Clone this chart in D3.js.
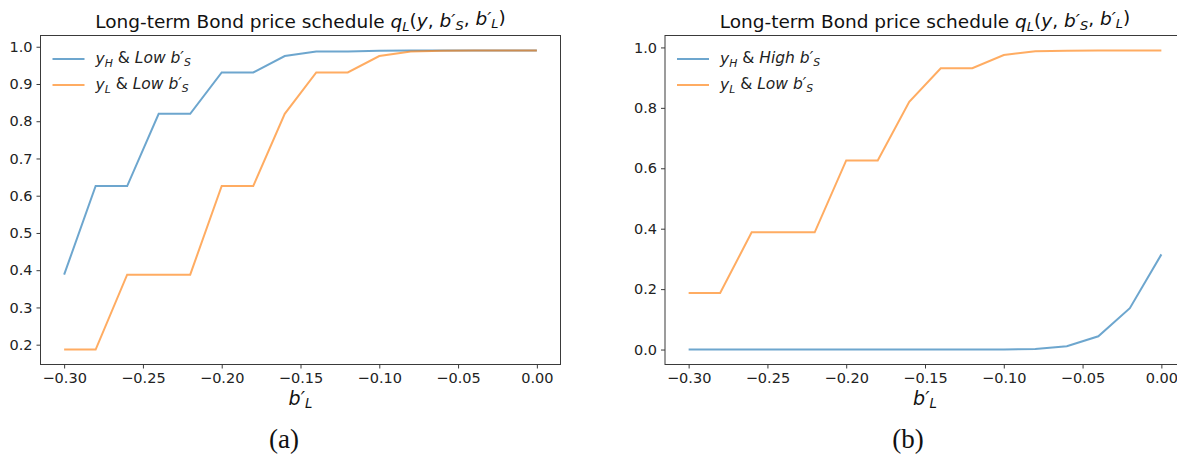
<!DOCTYPE html>
<html><head><meta charset="utf-8">
<script src="https://cdn.jsdelivr.net/npm/d3@7"></script>
<style>body{margin:0;background:#fff}svg{display:block}</style>
</head><body><svg id="c" width="1177" height="462"></svg>
<script>
const xValues = [-0.30,-0.28,-0.26,-0.24,-0.22,-0.20,-0.18,-0.16,-0.14,-0.12,-0.10,-0.08,-0.06,-0.04,-0.02,0.00];
const aHighY_LowB = [0.388,0.626,0.626,0.820,0.820,0.931,0.931,0.975,0.987,0.987,0.989,0.990,0.990,0.990,0.990,0.990];
const aLowY_LowB  = [0.187,0.187,0.388,0.388,0.388,0.626,0.626,0.820,0.931,0.931,0.975,0.987,0.989,0.990,0.990,0.990];
const bHighY_HighB = [0,0,0,0,0,0,0,0,0,0,0.0005,0.002,0.011,0.044,0.137,0.315];
const bLowY_LowB  = [0.187,0.187,0.388,0.388,0.388,0.626,0.626,0.820,0.931,0.931,0.975,0.987,0.989,0.990,0.990,0.990];
const xTicks = [-0.30,-0.25,-0.20,-0.15,-0.10,-0.05,0.00];
const aYTicks = [0.2,0.3,0.4,0.5,0.6,0.7,0.8,0.9,1.0];
const bYTicks = [0.0,0.2,0.4,0.6,0.8,1.0];
const blue = "#1f77b4", orange = "#ff7f0e";

const svg = d3.select("#c");
const FONT = "DejaVu Sans, sans-serif";
const W = 520, TOP = 35.5, BOT = 364.5;

function mathLabel(sel, parts){
  parts.forEach(p=>{
    const t = sel.append("tspan").text(p[0]);
    if(p[1]) t.attr("font-style","italic");
    if(p[2]){ t.attr("font-size","0.7em").attr("dy","0.25em"); }
    if(p[3]){ t.attr("dy","-0.25em"); }
  });
}

function panel(o){
  const g = svg.append("g");
  const x = d3.scaleLinear().domain([-0.315,0.015]).range([o.left,o.left+W]);
  const y = d3.scaleLinear().domain(o.yDomain).range([BOT,TOP]);
  g.append("rect").attr("x",o.left).attr("y",TOP).attr("width",W).attr("height",BOT-TOP)
    .attr("fill","none").attr("stroke","#3a3a3a").attr("stroke-width",1);
  const xa = g.append("g").attr("transform",`translate(0,${BOT})`)
    .call(d3.axisBottom(x).tickValues(xTicks).tickSize(4).tickPadding(4)
      .tickFormat(d=>d3.format(".2f")(d).replace("-","−")));
  const ya = g.append("g").attr("transform",`translate(${o.left},0)`)
    .call(d3.axisLeft(y).tickValues(o.yTicks).tickSize(4).tickPadding(4).tickFormat(d3.format(".1f")));
  [xa,ya].forEach(a=>{
    a.select(".domain").remove();
    a.selectAll("line").attr("stroke","#3a3a3a");
    a.selectAll("text").attr("font-family",FONT).attr("font-size",14.5).attr("fill","#222");
  });
  const line = d3.line().x((d,i)=>x(xValues[i])).y(d=>y(d));
  o.series.forEach(s=>{
    g.append("path").datum(s.values).attr("d",line).attr("fill","none")
      .attr("stroke",s.color).attr("stroke-opacity",0.65).attr("stroke-width",2);
  });
  const cx = o.left + W/2;
  const t = g.append("text").attr("x",cx).attr("y",28).attr("text-anchor","middle")
    .attr("font-family",FONT).attr("font-size",18.5).attr("fill","#111");
  mathLabel(t,[["Long-term Bond price schedule ",false],["q",true],["L",true,true],["(",false,false,true],["y",true],[", ",false],["b′",true],["S",true,true],[", ",false,false,true],["b′",true],["L",true,true],[")",false,false,true]]);
  o.series.forEach((s,i)=>{
    const ly = 59 + i*26;
    g.append("line").attr("x1",o.left+12).attr("x2",o.left+44).attr("y1",ly).attr("y2",ly)
      .attr("stroke",s.color).attr("stroke-opacity",0.65).attr("stroke-width",2);
    const lt = g.append("text").attr("x",o.left+55).attr("y",ly+5)
      .attr("font-family",FONT).attr("font-size",15.5).attr("fill","#222");
    mathLabel(lt,[["y",true],[s.sub,true,true],[" & ",false,false,true],[s.word+" b′",true],["S",true,true]]);
  });
  const xl = g.append("text").attr("x",cx).attr("y",405).attr("text-anchor","middle")
    .attr("font-family",FONT).attr("font-size",19).attr("fill","#111");
  mathLabel(xl,[["b′",true],["L",true,true]]);
  g.append("text").attr("x",o.capX).attr("y",448).attr("text-anchor","middle")
    .attr("font-family","Liberation Serif, serif").attr("font-size",27).attr("fill","#111").text(o.cap);
}

panel({left:40.5, yDomain:[0.1468,1.0302], yTicks:aYTicks, cap:"(a)", capX:284,
  series:[{values:aHighY_LowB,color:blue,sub:"H",word:"Low"},{values:aLowY_LowB,color:orange,sub:"L",word:"Low"}]});
panel({left:665, yDomain:[-0.0495,1.0395], yTicks:bYTicks, cap:"(b)", capX:908,
  series:[{values:bHighY_HighB,color:blue,sub:"H",word:"High"},{values:bLowY_LowB,color:orange,sub:"L",word:"Low"}]});
</script></body></html>
